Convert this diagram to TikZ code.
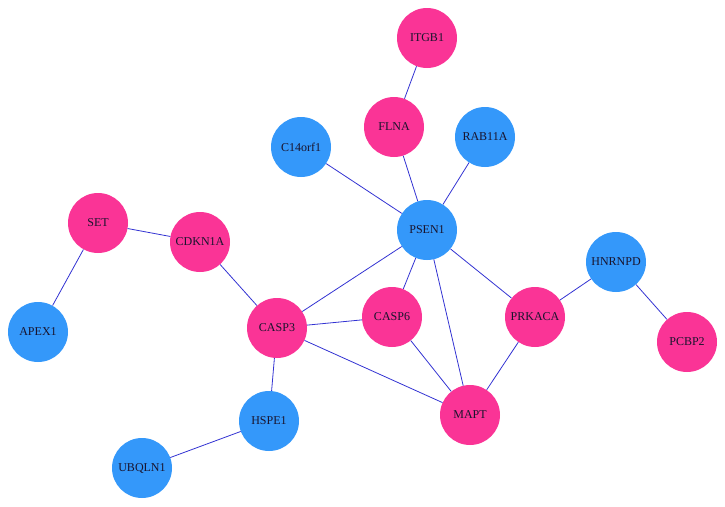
\documentclass[tikz,border=0pt]{standalone}
\usepackage{fontspec}
\setmainfont{Liberation Serif}
\definecolor{pinknode}{RGB}{250,52,150}
\definecolor{bluenode}{RGB}{52,152,250}
\definecolor{edgeblue}{RGB}{50,50,210}
\definecolor{labeltext}{RGB}{25,20,45}
\begin{document}
\begin{tikzpicture}[x=1pt, y=-1pt,
	gene/.style={circle, minimum size=60pt, inner sep=0pt, text=labeltext, font=\fontsize{12}{14}\selectfont},
	pgene/.style={gene, fill=pinknode},
	bgene/.style={gene, fill=bluenode},
	link/.style={color=edgeblue, line width=0.8pt}]
	\useasboundingbox (0,0) rectangle (725,506);
	% nodes
	\node[pgene] (itgb1) at (427,38) {ITGB1};
	\node[pgene] (flna) at (394,127) {FLNA};
	\node[bgene] (rab11a) at (485,137) {RAB11A};
	\node[bgene] (c14orf1) at (301,147) {C14orf1};
	\node[bgene] (psen1) at (427,230) {PSEN1};
	\node[pgene] (set) at (98,223) {SET};
	\node[pgene] (cdkn1a) at (200,242) {CDKN1A};
	\node[bgene] (apex1) at (38,332) {APEX1};
	\node[pgene] (casp3) at (277,328) {CASP3};
	\node[pgene] (casp6) at (392,317) {CASP6};
	\node[pgene] (prkaca) at (535,317) {PRKACA};
	\node[bgene] (hnrnpd) at (616,262) {HNRNPD};
	\node[pgene] (pcbp2) at (687,342) {PCBP2};
	\node[bgene] (hspe1) at (269,421) {HSPE1};
	\node[pgene] (mapt) at (470,415) {MAPT};
	\node[bgene] (ubqln1) at (142,468) {UBQLN1};
	% edges
	\draw[link] (itgb1) -- (flna);
	\draw[link] (flna) -- (psen1);
	\draw[link] (c14orf1) -- (psen1);
	\draw[link] (rab11a) -- (psen1);
	\draw[link] (psen1) -- (casp3);
	\draw[link] (psen1) -- (casp6);
	\draw[link] (psen1) -- (mapt);
	\draw[link] (psen1) -- (prkaca);
	\draw[link] (set) -- (cdkn1a);
	\draw[link] (set) -- (apex1);
	\draw[link] (cdkn1a) -- (casp3);
	\draw[link] (casp3) -- (casp6);
	\draw[link] (casp3) -- (mapt);
	\draw[link] (casp3) -- (hspe1);
	\draw[link] (casp6) -- (mapt);
	\draw[link] (prkaca) -- (mapt);
	\draw[link] (prkaca) -- (hnrnpd);
	\draw[link] (hnrnpd) -- (pcbp2);
	\draw[link] (hspe1) -- (ubqln1);
\end{tikzpicture}
\end{document}
